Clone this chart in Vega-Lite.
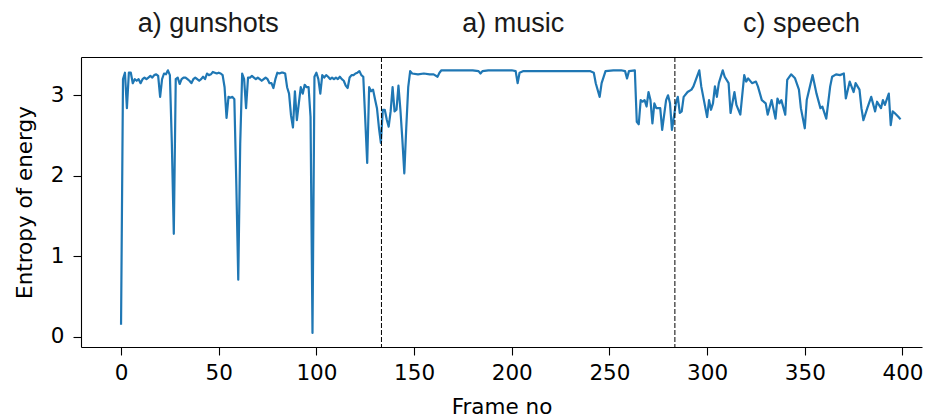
{
  "$schema": "https://vega.github.io/schema/vega-lite/v6.json",
  "autosize": "none",
  "width": 841,
  "height": 290,
  "padding": {"left": 81, "top": 57, "right": 3, "bottom": 72},
  "background": "white",
  "config": {
    "view": {"stroke": null},
    "axis": {
      "domainColor": "black", "tickColor": "black", "labelColor": "black", "titleColor": "black",
      "labelFont": "DejaVu Sans", "titleFont": "DejaVu Sans",
      "labelFontSize": 21.5, "titleFontSize": 21.5, "titleFontWeight": "normal",
      "domainWidth": 1.1, "tickWidth": 1.1, "grid": false
    }
  },
  "resolve": {"axis": {"x": "independent"}},
  "layer": [
    {
      "data": {"values": [
        {"frame":0,"entropy":0.15},{"frame":1,"entropy":3.2},{"frame":2,"entropy":3.28},{"frame":3,"entropy":2.84},{"frame":4,"entropy":3.28},{"frame":5,"entropy":3.28},{"frame":6,"entropy":3.15},{"frame":7,"entropy":3.2},{"frame":8,"entropy":3.18},{"frame":9,"entropy":3.2},
        {"frame":10,"entropy":3.15},{"frame":11,"entropy":3.2},{"frame":12,"entropy":3.22},{"frame":13,"entropy":3.2},{"frame":14,"entropy":3.22},{"frame":15,"entropy":3.24},{"frame":16,"entropy":3.22},{"frame":17,"entropy":3.25},{"frame":18,"entropy":3.26},{"frame":19,"entropy":3.24},
        {"frame":20,"entropy":2.98},{"frame":21,"entropy":3.2},{"frame":22,"entropy":3.27},{"frame":23,"entropy":3.26},{"frame":24,"entropy":3.31},{"frame":25,"entropy":3.25},{"frame":26,"entropy":2.4},{"frame":27,"entropy":1.28},{"frame":28,"entropy":3.2},{"frame":29,"entropy":3.22},
        {"frame":30,"entropy":3.14},{"frame":31,"entropy":3.2},{"frame":32,"entropy":3.22},{"frame":33,"entropy":3.22},{"frame":34,"entropy":3.2},{"frame":35,"entropy":3.18},{"frame":36,"entropy":3.15},{"frame":37,"entropy":3.2},{"frame":38,"entropy":3.22},{"frame":39,"entropy":3.2},
        {"frame":40,"entropy":3.18},{"frame":41,"entropy":3.2},{"frame":42,"entropy":3.23},{"frame":43,"entropy":3.2},{"frame":44,"entropy":3.27},{"frame":45,"entropy":3.25},{"frame":46,"entropy":3.26},{"frame":47,"entropy":3.29},{"frame":48,"entropy":3.28},{"frame":49,"entropy":3.27},
        {"frame":50,"entropy":3.28},{"frame":51,"entropy":3.27},{"frame":52,"entropy":3.25},{"frame":53,"entropy":3.1},{"frame":54,"entropy":2.72},{"frame":55,"entropy":2.98},{"frame":56,"entropy":2.97},{"frame":57,"entropy":2.98},{"frame":58,"entropy":2.95},{"frame":59,"entropy":1.9},
        {"frame":60,"entropy":0.71},{"frame":61,"entropy":2.4},{"frame":62,"entropy":3.27},{"frame":63,"entropy":3.2},{"frame":64,"entropy":2.84},{"frame":65,"entropy":3.22},{"frame":66,"entropy":3.22},{"frame":67,"entropy":3.24},{"frame":68,"entropy":3.22},{"frame":69,"entropy":3.2},
        {"frame":70,"entropy":3.22},{"frame":71,"entropy":3.2},{"frame":72,"entropy":3.18},{"frame":73,"entropy":3.2},{"frame":74,"entropy":3.22},{"frame":75,"entropy":3.2},{"frame":76,"entropy":3.15},{"frame":77,"entropy":3.15},{"frame":78,"entropy":3.09},{"frame":79,"entropy":3.2},
        {"frame":80,"entropy":3.28},{"frame":81,"entropy":3.27},{"frame":82,"entropy":3.28},{"frame":83,"entropy":3.28},{"frame":84,"entropy":3.27},{"frame":85,"entropy":3.1},{"frame":86,"entropy":3.02},{"frame":87,"entropy":2.75},{"frame":88,"entropy":2.6},{"frame":89,"entropy":3.05},
        {"frame":90,"entropy":2.69},{"frame":91,"entropy":2.9},{"frame":92,"entropy":3.1},{"frame":93,"entropy":3.02},{"frame":94,"entropy":3.13},{"frame":95,"entropy":3.1},{"frame":96,"entropy":3.1},{"frame":97,"entropy":2.73},{"frame":98,"entropy":0.05},{"frame":99,"entropy":3.23},
        {"frame":100,"entropy":3.28},{"frame":101,"entropy":3.2},{"frame":102,"entropy":3.02},{"frame":103,"entropy":3.25},{"frame":104,"entropy":3.22},{"frame":105,"entropy":3.25},{"frame":106,"entropy":3.23},{"frame":107,"entropy":3.2},{"frame":108,"entropy":3.22},{"frame":109,"entropy":3.2},
        {"frame":110,"entropy":3.22},{"frame":111,"entropy":3.2},{"frame":112,"entropy":3.23},{"frame":113,"entropy":3.2},{"frame":114,"entropy":3.18},{"frame":115,"entropy":3.12},{"frame":116,"entropy":3.09},{"frame":117,"entropy":3.22},{"frame":118,"entropy":3.25},{"frame":119,"entropy":3.25},
        {"frame":120,"entropy":3.27},{"frame":121,"entropy":3.28},{"frame":122,"entropy":3.3},{"frame":123,"entropy":3.25},{"frame":124,"entropy":3.23},{"frame":125,"entropy":2.7},{"frame":126,"entropy":2.16},{"frame":127,"entropy":3.1},{"frame":128,"entropy":3.05},{"frame":129,"entropy":3.07},
        {"frame":130,"entropy":2.95},{"frame":131,"entropy":2.84},{"frame":132,"entropy":2.6},{"frame":133,"entropy":2.41},{"frame":134,"entropy":2.82},{"frame":135,"entropy":2.82},{"frame":136,"entropy":2.7},{"frame":137,"entropy":2.61},{"frame":138,"entropy":2.8},{"frame":139,"entropy":3.1},
        {"frame":140,"entropy":2.8},{"frame":141,"entropy":2.82},{"frame":142,"entropy":3.12},{"frame":143,"entropy":2.82},{"frame":144,"entropy":2.45},{"frame":145,"entropy":2.03},{"frame":146,"entropy":2.6},{"frame":147,"entropy":3.1},{"frame":148,"entropy":3.3},{"frame":149,"entropy":3.27},
        {"frame":152,"entropy":3.26},{"frame":155,"entropy":3.27},{"frame":158,"entropy":3.26},{"frame":160,"entropy":3.26},{"frame":162,"entropy":3.23},{"frame":163,"entropy":3.28},{"frame":164,"entropy":3.31},{"frame":168,"entropy":3.31},{"frame":172,"entropy":3.31},{"frame":176,"entropy":3.31},
        {"frame":180,"entropy":3.31},{"frame":183,"entropy":3.3},{"frame":184,"entropy":3.27},{"frame":185,"entropy":3.3},{"frame":188,"entropy":3.31},{"frame":192,"entropy":3.31},{"frame":196,"entropy":3.31},{"frame":200,"entropy":3.31},{"frame":202,"entropy":3.3},{"frame":203,"entropy":3.15},
        {"frame":204,"entropy":3.28},{"frame":206,"entropy":3.3},{"frame":210,"entropy":3.3},{"frame":215,"entropy":3.3},{"frame":220,"entropy":3.3},{"frame":225,"entropy":3.3},{"frame":230,"entropy":3.3},{"frame":235,"entropy":3.3},{"frame":240,"entropy":3.3},{"frame":242,"entropy":3.28},
        {"frame":243,"entropy":3.15},{"frame":245,"entropy":2.98},{"frame":246,"entropy":3.15},{"frame":248,"entropy":3.3},{"frame":252,"entropy":3.31},{"frame":256,"entropy":3.31},{"frame":258,"entropy":3.3},{"frame":259,"entropy":3.21},{"frame":260,"entropy":3.3},{"frame":263,"entropy":3.31},
        {"frame":264,"entropy":2.67},{"frame":265,"entropy":2.64},{"frame":266,"entropy":2.94},{"frame":267,"entropy":2.92},{"frame":268,"entropy":2.94},{"frame":269,"entropy":2.86},{"frame":270,"entropy":3.04},{"frame":271,"entropy":2.94},{"frame":272,"entropy":2.65},{"frame":273,"entropy":2.9},{"frame":274,"entropy":2.84},
        {"frame":276,"entropy":2.84},{"frame":277,"entropy":2.57},{"frame":279,"entropy":2.94},{"frame":280,"entropy":3.0},{"frame":281,"entropy":2.9},{"frame":282,"entropy":2.57},{"frame":283,"entropy":2.73},{"frame":284,"entropy":2.9},{"frame":285,"entropy":2.98},{"frame":286,"entropy":2.78},
        {"frame":287,"entropy":2.8},{"frame":288,"entropy":2.98},{"frame":290,"entropy":3.04},{"frame":292,"entropy":3.07},{"frame":293,"entropy":3.11},{"frame":296,"entropy":3.31},{"frame":297,"entropy":3.11},{"frame":300,"entropy":2.73},{"frame":301,"entropy":2.94},{"frame":302,"entropy":2.82},
        {"frame":303,"entropy":2.9},{"frame":304,"entropy":3.11},{"frame":305,"entropy":2.98},{"frame":306,"entropy":3.15},{"frame":308,"entropy":3.31},{"frame":309,"entropy":3.23},{"frame":311,"entropy":3.15},{"frame":312,"entropy":2.78},{"frame":314,"entropy":3.04},{"frame":315,"entropy":2.88},
        {"frame":317,"entropy":2.76},{"frame":319,"entropy":3.25},{"frame":320,"entropy":3.17},{"frame":321,"entropy":3.21},{"frame":323,"entropy":3.15},{"frame":325,"entropy":3.17},{"frame":326,"entropy":3.11},{"frame":328,"entropy":2.94},{"frame":330,"entropy":2.9},{"frame":331,"entropy":2.76},
        {"frame":333,"entropy":2.94},{"frame":335,"entropy":2.71},{"frame":336,"entropy":2.96},{"frame":337,"entropy":2.9},{"frame":338,"entropy":2.94},{"frame":340,"entropy":2.76},{"frame":341,"entropy":3.19},{"frame":343,"entropy":3.26},{"frame":345,"entropy":3.21},{"frame":347,"entropy":3.07},
        {"frame":348,"entropy":2.84},{"frame":350,"entropy":2.59},{"frame":351,"entropy":2.94},{"frame":354,"entropy":3.25},{"frame":356,"entropy":3.02},{"frame":358,"entropy":2.84},{"frame":359,"entropy":2.86},{"frame":361,"entropy":2.71},{"frame":363,"entropy":3.11},{"frame":364,"entropy":3.23},
        {"frame":366,"entropy":3.26},{"frame":368,"entropy":3.25},{"frame":370,"entropy":3.27},{"frame":371,"entropy":2.96},{"frame":373,"entropy":3.17},{"frame":375,"entropy":3.04},{"frame":376,"entropy":3.15},{"frame":378,"entropy":3.07},{"frame":379,"entropy":2.84},{"frame":380,"entropy":2.69},
        {"frame":382,"entropy":2.84},{"frame":384,"entropy":2.98},{"frame":386,"entropy":2.8},{"frame":387,"entropy":2.92},{"frame":389,"entropy":2.84},{"frame":390,"entropy":2.94},{"frame":391,"entropy":2.88},{"frame":393,"entropy":3.02},{"frame":394,"entropy":2.63},{"frame":395,"entropy":2.8},
        {"frame":396,"entropy":2.78},{"frame":398,"entropy":2.73},{"frame":399,"entropy":2.7}
      ]},
      "mark": {"type": "line", "color": "#1f77b4", "strokeWidth": 2.2, "strokeJoin": "round"},
      "encoding": {
        "x": {"field": "frame", "type": "quantitative",
              "scale": {"domain": [-20.5, 410], "nice": false, "zero": false},
              "axis": {"orient": "bottom", "values": [0,50,100,150,200,250,300,350,400], "title": "Frame no", "tickSize": 8, "labelPadding": 7, "titlePadding": 13}},
        "y": {"field": "entropy", "type": "quantitative",
              "scale": {"domain": [-0.125, 3.475], "nice": false, "zero": false},
              "axis": {"values": [0,1,2,3], "title": "Entropy of energy", "tickSize": 8, "labelPadding": 9, "titlePadding": 14}}
      }
    },
    {
      "data": {"values": [
        {"frame": 44.6, "entropy": 3.782, "label": "a) gunshots"},
        {"frame": 200.8, "entropy": 3.782, "label": "a) music"},
        {"frame": 348.3, "entropy": 3.782, "label": "c) speech"}
      ]},
      "mark": {"type": "text", "font": "Liberation Sans", "fontSize": 27, "align": "center", "baseline": "alphabetic", "color": "#1a1a1a"},
      "encoding": {
        "x": {"field": "frame", "type": "quantitative", "scale": {"domain": [-20.5, 410], "nice": false, "zero": false}, "axis": null},
        "y": {"field": "entropy", "type": "quantitative",
              "scale": {"domain": [-0.125, 3.475], "nice": false, "zero": false},
              "axis": {"values": [0,1,2,3], "title": "Entropy of energy", "tickSize": 8, "labelPadding": 9, "titlePadding": 14}},
        "text": {"field": "label"}
      }
    },
    {
      "data": {"values": [{"frame": 133.3}, {"frame": 283.5}]},
      "mark": {"type": "rule", "color": "black", "strokeWidth": 1, "strokeDash": [5, 2]},
      "encoding": {
        "x": {"field": "frame", "type": "quantitative",
              "scale": {"domain": [-20.5, 410], "nice": false, "zero": false},
              "axis": {"orient": "top", "labels": false, "ticks": false, "title": null, "domain": true}}
      }
    }
  ]
}
